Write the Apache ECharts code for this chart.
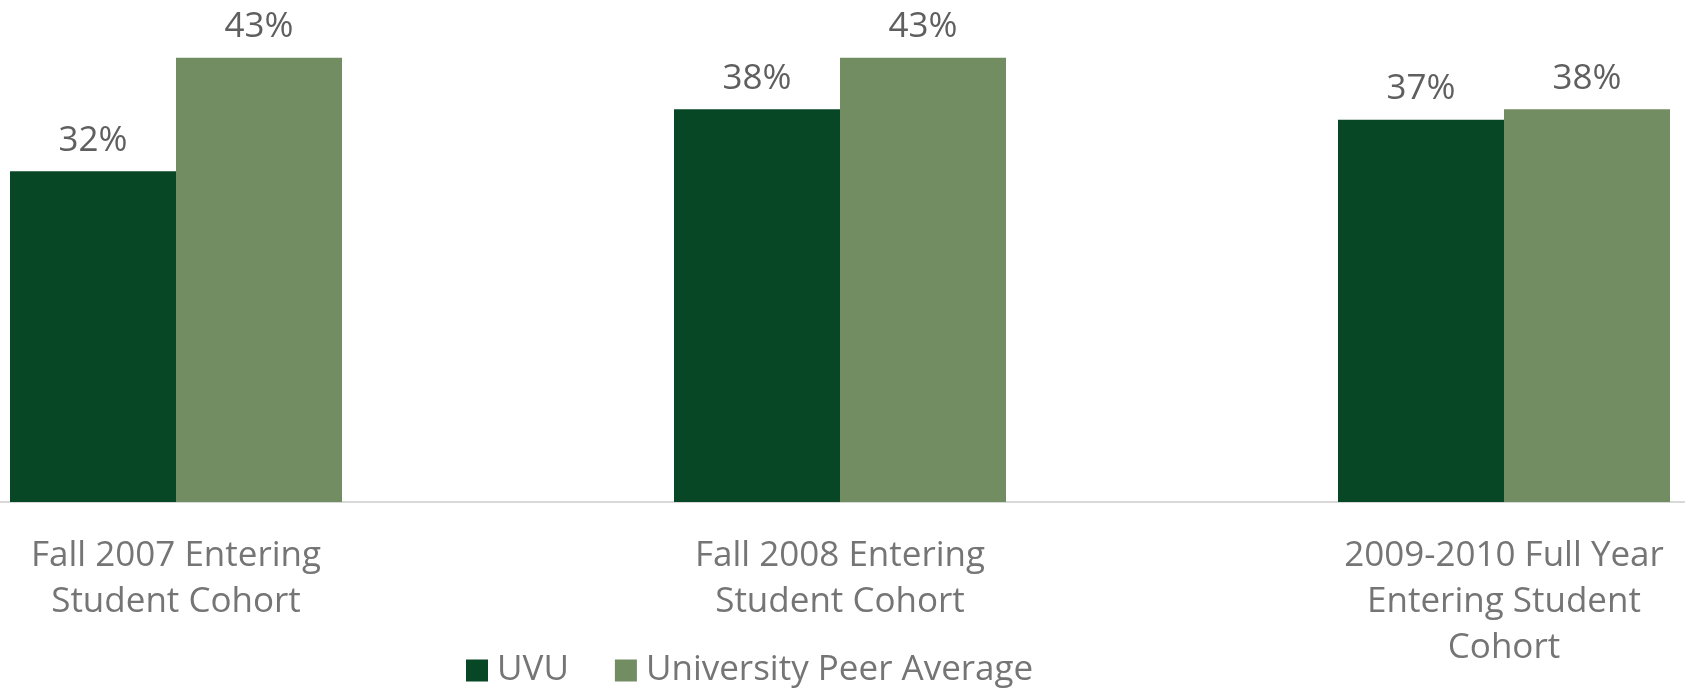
<!DOCTYPE html>
<html>
<head>
<meta charset="utf-8">
<script src="https://cdn.jsdelivr.net/npm/echarts@6/dist/echarts.min.js"></script>
<style>
  html, body { margin: 0; padding: 0; background: #fff; }
  #chart { width: 1685px; height: 689px; }
</style>
</head>
<body>
<div id="chart"></div>
<script>
var categories = [
  'Fall 2007 Entering\nStudent Cohort',
  'Fall 2008 Entering\nStudent Cohort',
  '2009-2010 Full Year\nEntering Student\nCohort'
];
var seriesNames = ['UVU', 'University Peer Average'];
var uvuValues = [32, 38, 37];
var peerValues = [43, 43, 38];

var font = '"Open Sans", "Noto Sans", sans-serif';
var chart = echarts.init(document.getElementById('chart'));

function barSeries(name, data, color) {
  return {
    name: name,
    type: 'bar',
    data: data,
    barWidth: 166,
    barGap: '0%',
    itemStyle: { color: color },
    label: {
      show: true,
      position: 'top',
      distance: 13,
      formatter: '{c}%',
      color: '#5f5f5f',
      fontFamily: font,
      fontSize: 35
    }
  };
}

chart.setOption({
  animation: false,
  grid: { left: -156, right: -151, top: 37, bottom: 187, outerBoundsMode: 'none' },
  legend: {
    left: 461,
    top: 648,
    itemWidth: 22,
    itemHeight: 22,
    itemGap: 46,
    icon: 'rect',
    textStyle: { color: '#757575', fontFamily: font, fontSize: 35, padding: [0, 0, 0, 4] },
    data: seriesNames
  },
  xAxis: {
    type: 'category',
    data: categories,
    axisLine: { lineStyle: { color: '#d9d9d9', width: 2 } },
    axisTick: { show: false },
    axisLabel: {
      color: '#757575',
      fontFamily: font,
      fontSize: 35,
      lineHeight: 46,
      margin: 31,
      interval: 0
    }
  },
  yAxis: {
    type: 'value',
    min: 0,
    max: 45,
    show: false,
    splitLine: { show: false }
  },
  series: [
    barSeries(seriesNames[0], uvuValues, '#084726'),
    barSeries(seriesNames[1], peerValues, '#728d62')
  ]
});
</script>
</body>
</html>
